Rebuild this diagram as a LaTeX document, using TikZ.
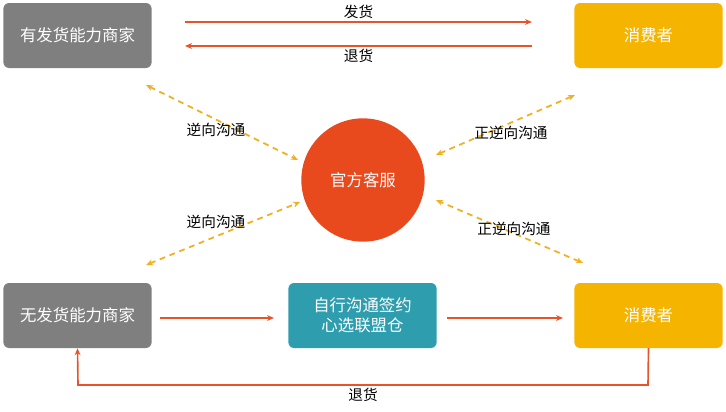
\documentclass[tikz,border=0pt]{standalone}
\usepackage{fontspec}
\setmainfont{Noto Sans CJK SC}
\usetikzlibrary{arrows.meta}
\definecolor{boxgray}{HTML}{7F7F7F}
\definecolor{boxyellow}{HTML}{F5B400}
\definecolor{boxteal}{HTML}{2E9DAE}
\definecolor{hubred}{HTML}{E84A1E}
\definecolor{linered}{HTML}{E8542A}
\definecolor{dashyellow}{HTML}{F0B020}
\begin{document}
\begin{tikzpicture}[x=0.03cm,y=-0.03cm,
  party/.style={rounded corners=5pt, minimum width=4.45cm, minimum height=1.95cm,
    text=white, font=\fontsize{14}{17}\selectfont, align=center, inner sep=0pt},
  flow/.style={draw=linered, line width=1.4pt, -{Stealth[length=6pt,width=5pt]}},
  talk/.style={draw=dashyellow, line width=1.5pt, dashed, dash pattern=on 5pt off 4pt,
    {Stealth[length=6pt,width=5pt]}-{Stealth[length=6pt,width=5pt]}},
  lbl/.style={font=\fontsize{12.5}{14}\selectfont, text=black}
  ]
  \useasboundingbox (0,0) rectangle (726,411);
  % boxes
  \node[party, fill=boxgray] (seller) at (77.5,35.5) {有发货能力商家};
  \node[party, fill=boxyellow] (buyerA) at (648.5,35.5) {消费者};
  \node[party, fill=boxgray] (nonseller) at (77.5,315.5) {无发货能力商家};
  \node[party, fill=boxteal] (warehouse) at (362.5,315.5) {自行沟通签约\\心选联盟仓};
  \node[party, fill=boxyellow] (buyerB) at (648.5,315.5) {消费者};
  \node[circle, fill=hubred, minimum size=3.7cm, text=white,
    font=\fontsize{14}{17}\selectfont] (service) at (363,180) {官方客服};
  % top flows
  \coordinate (ship0) at (185,22); \coordinate (ship1) at (532,22);
  \coordinate (ret0) at (532,46); \coordinate (ret1) at (185,46);
  \draw[flow] (ship0) -- node[lbl, above=-1pt] {发货} (ship1);
  \draw[flow] (ret0) -- node[lbl, below=-1pt] {退货} (ret1);
  % communication
  \coordinate (tl) at (146,85); \coordinate (tlc) at (298,160);
  \coordinate (bl) at (146,265); \coordinate (blc) at (300,202);
  \coordinate (tr) at (575,95); \coordinate (trc) at (436,155);
  \coordinate (br) at (583,263); \coordinate (brc) at (436,200);
  \draw[talk] (tl) -- (tlc);
  \draw[talk] (bl) -- (blc);
  \draw[talk] (tr) -- (trc);
  \draw[talk] (br) -- (brc);
  \node[lbl] at (216,130) {逆向沟通};
  \node[lbl] at (216,222) {逆向沟通};
  \node[lbl] at (511,133) {正逆向沟通};
  \node[lbl] at (514,229) {正逆向沟通};
  % bottom flows
  \draw[flow] (160,318) -- (274,318);
  \draw[flow] (447,318) -- (563,318);
  \draw[flow] (buyerB.south) -- (648,385) -- node[lbl, below=-1pt] {退货} (78,385) -- (nonseller.south);
\end{tikzpicture}
\end{document}
